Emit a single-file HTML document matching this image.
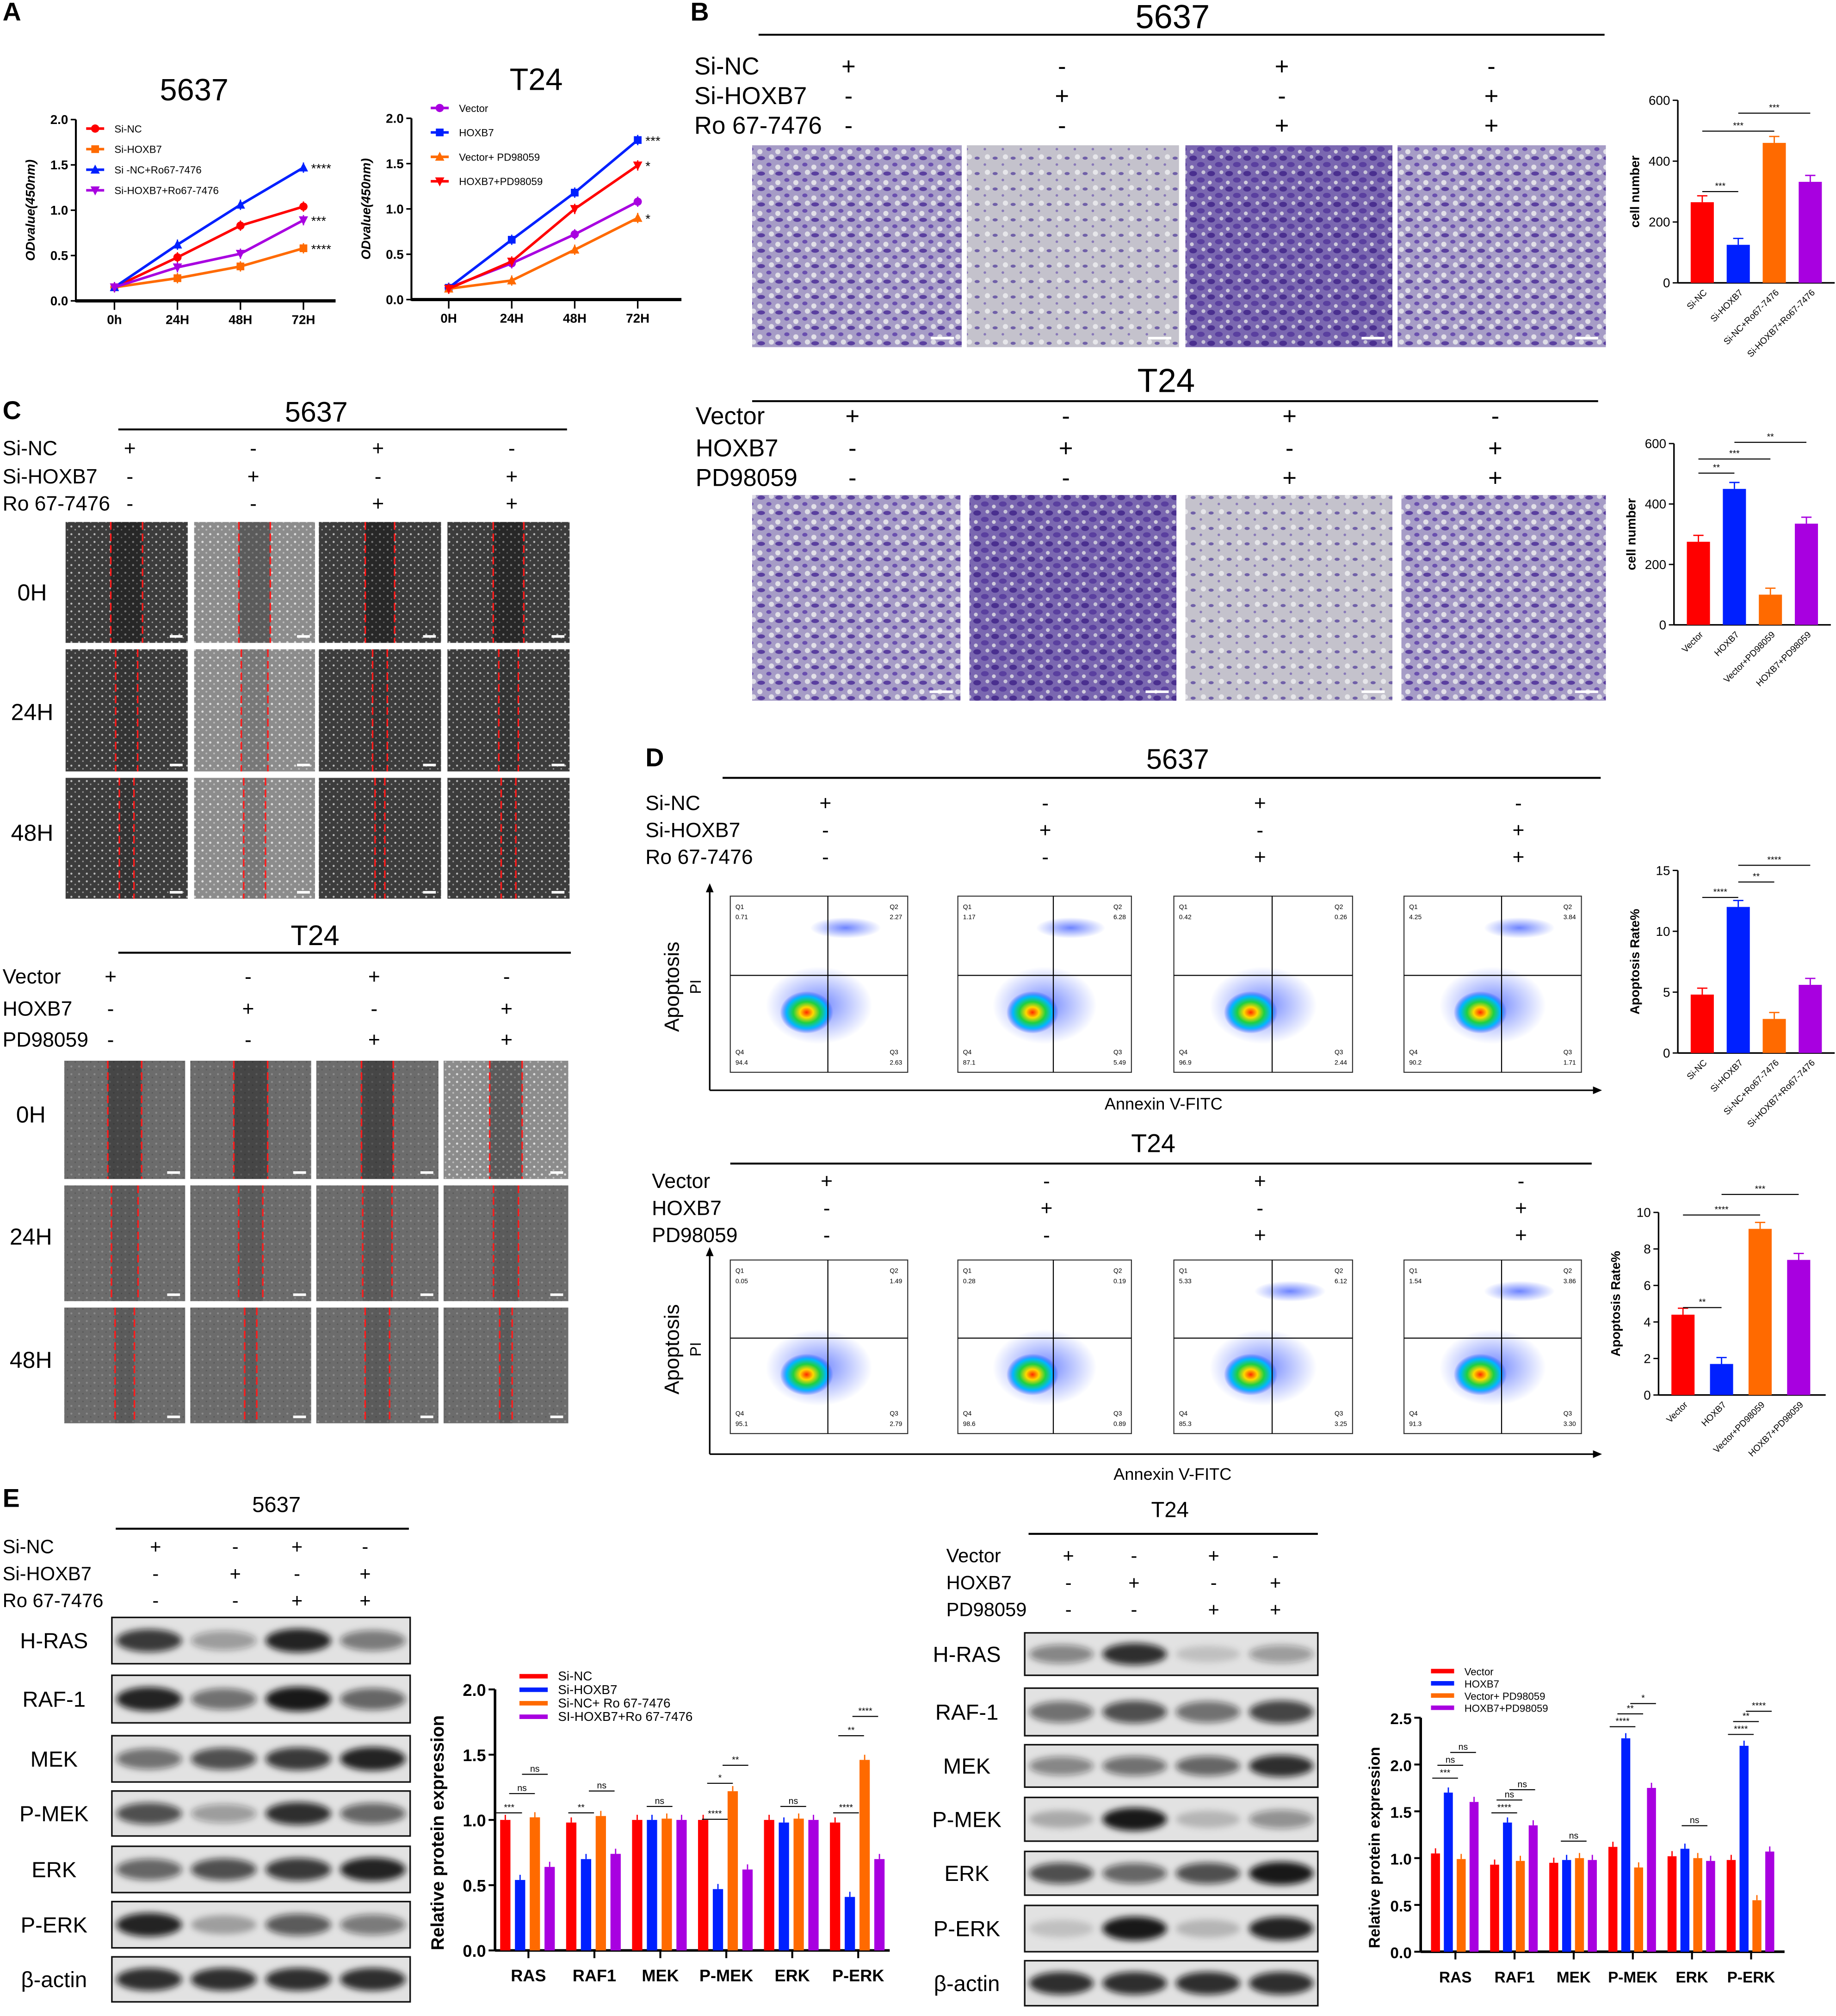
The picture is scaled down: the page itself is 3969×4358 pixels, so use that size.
<!DOCTYPE html>
<html><head><meta charset="utf-8"><style>
html,body{margin:0;padding:0;background:#fff}
svg{display:block;font-family:"Liberation Sans",Arial,sans-serif}
</style></head><body>
<svg id="fig" xmlns="http://www.w3.org/2000/svg" width="3969" height="4358" viewBox="0 0 1428 1568">
<defs>
<filter id="blur1" x="-20%" y="-50%" width="140%" height="200%"><feGaussianBlur stdDeviation="2.5"/></filter>
<filter id="blur2"><feGaussianBlur stdDeviation="4"/></filter>
<pattern id="cellsDense" width="14" height="12" patternUnits="userSpaceOnUse"><rect width="14" height="12" fill="#7a67b0"/><ellipse cx="4" cy="3" rx="3" ry="2" fill="#4a2f8f"/><ellipse cx="10" cy="8" rx="3" ry="2" fill="#5a3f9f"/><circle cx="12" cy="2" r="1.5" fill="#c8c4d8"/><circle cx="3" cy="10" r="1.5" fill="#d0ccdc"/></pattern>
<pattern id="cellsMid" width="14" height="12" patternUnits="userSpaceOnUse"><rect width="14" height="12" fill="#a69cc6"/><ellipse cx="4" cy="3" rx="3" ry="1.6" fill="#5a3f9f"/><ellipse cx="10" cy="8" rx="2" ry="1.5" fill="#6a4faf"/><circle cx="12" cy="2" r="2" fill="#dedde6"/><circle cx="3" cy="10" r="2" fill="#e2e0e8"/></pattern>
<pattern id="cellsLight" width="14" height="12" patternUnits="userSpaceOnUse"><rect width="14" height="12" fill="#c4c2cc"/><ellipse cx="4" cy="3" rx="2" ry="1.2" fill="#7060a8"/><circle cx="10" cy="8" r="1" fill="#8878b8"/><circle cx="12" cy="2" r="2" fill="#e6e6ea"/></pattern>
<pattern id="speckDark" width="6" height="6" patternUnits="userSpaceOnUse"><rect width="6" height="6" fill="#3c3c3c"/><circle cx="1.5" cy="1.5" r="0.8" fill="#bbb"/><circle cx="4.5" cy="4" r="0.6" fill="#999"/></pattern>
<pattern id="speckLight" width="6" height="6" patternUnits="userSpaceOnUse"><rect width="6" height="6" fill="#8c8c8c"/><circle cx="1.5" cy="1.5" r="0.9" fill="#ddd"/><circle cx="4.5" cy="4" r="0.7" fill="#bbb"/></pattern>
<pattern id="speckGray" width="6" height="6" patternUnits="userSpaceOnUse"><rect width="6" height="6" fill="#6c6c6c"/><circle cx="1.5" cy="1.5" r="0.8" fill="#8a8a8a"/><circle cx="4.5" cy="4" r="0.6" fill="#5a5a5a"/></pattern>
<radialGradient id="flowCore"><stop offset="0" stop-color="#ff2a00"/><stop offset="0.25" stop-color="#ffd800"/><stop offset="0.5" stop-color="#20d040"/><stop offset="0.75" stop-color="#00b8ff"/><stop offset="1" stop-color="#2030ff" stop-opacity="0"/></radialGradient>
<radialGradient id="flowSparse"><stop offset="0" stop-color="#3050ff" stop-opacity="0.7"/><stop offset="1" stop-color="#3050ff" stop-opacity="0"/></radialGradient>
</defs>
</svg>
<script>
// ===== DATA =====
const a1Cats=['0h','24H','48H','72H'];
const a1YTicks=[0,0.5,1.0,1.5,2.0];
const a1SiNC=[0.15,0.48,0.83,1.04];
const a1SiHOXB7=[0.15,0.25,0.38,0.58];
const a1SiNCRo=[0.15,0.62,1.06,1.47];
const a1SiHOXB7Ro=[0.15,0.37,0.52,0.89];
const a1Stars=['****','***','','****'];
const a2Cats=['0H','24H','48H','72H'];
const a2Vector=[0.13,0.40,0.72,1.08];
const a2HOXB7=[0.13,0.66,1.18,1.76];
const a2VectorPD=[0.12,0.21,0.55,0.90];
const a2HOXB7PD=[0.12,0.42,1.0,1.48];
const b1Labels=['Si-NC','Si-HOXB7','Si-NC+Ro67-7476','Si-HOXB7+Ro67-7476'];
const b1Values=[265,125,460,332];
const b1Ticks=[0,200,400,600];
const b2Labels=['Vector','HOXB7','Vector+PD98059','HOXB7+PD98059'];
const b2Values=[275,450,100,335];
const d1Values=[4.8,12.0,2.8,5.6];
const d1Ticks=[0,5,10,15];
const d2Values=[4.4,1.7,9.1,7.4];
const d2Ticks=[0,2,4,6,8,10];
const eCats=['RAS','RAF1','MEK','P-MEK','ERK','P-ERK'];
const e1SiNC=[1.0,0.98,1.0,1.0,1.0,0.98];
const e1SiHOXB7=[0.54,0.70,1.0,0.47,0.98,0.41];
const e1SiNCRo=[1.02,1.03,1.01,1.22,1.01,1.46];
const e1SiHOXB7Ro=[0.64,0.74,1.0,0.62,1.0,0.70];
const e1Ticks=[0,0.5,1.0,1.5,2.0];
const e2Vector=[1.05,0.93,0.95,1.12,1.02,0.98];
const e2HOXB7=[1.70,1.38,0.98,2.28,1.10,2.20];
const e2VectorPD=[0.99,0.97,1.0,0.90,1.0,0.55];
const e2HOXB7PD=[1.60,1.35,0.98,1.75,0.97,1.07];
const e2Ticks=[0,0.5,1.0,1.5,2.0,2.5];
const flow1Q=[['0.71','2.27','2.63','94.4'],['1.17','6.28','5.49','87.1'],['0.42','0.26','2.44','96.9'],['4.25','3.84','1.71','90.2']];
const flow2Q=[['0.05','1.49','2.79','95.1'],['0.28','0.19','0.89','98.6'],['5.33','6.12','3.25','85.3'],['1.54','3.86','3.30','91.3']];
const blot1Rows=['H-RAS','RAF-1','MEK','P-MEK','ERK','P-ERK','β-actin'];
const blot1Int=[[0.8,0.35,0.9,0.5],[0.9,0.55,0.95,0.6],[0.55,0.7,0.8,0.9],[0.7,0.35,0.85,0.6],[0.6,0.7,0.8,0.9],[0.9,0.3,0.65,0.5],[0.85,0.85,0.85,0.85]];
const blot2Int=[[0.45,0.85,0.15,0.35],[0.55,0.7,0.55,0.75],[0.45,0.55,0.6,0.85],[0.25,0.95,0.2,0.4],[0.7,0.6,0.7,0.95],[0.15,0.95,0.2,0.9],[0.85,0.85,0.85,0.85]];
const COLORS4=['#ff0000','#0020ff','#ff6a00','#a800e0'];

// ===== HELPERS =====
const NS='http://www.w3.org/2000/svg';
const svg=document.getElementById('fig');
function mk(tag,attrs,parent){const e=document.createElementNS(NS,tag);for(const k in attrs)e.setAttribute(k,attrs[k]);(parent||svg).appendChild(e);return e;}
function grp(name){const g=mk('g',{});


return g;}
function txt(x,y,s,size,name,opts,parent){const t=mk('text',Object.assign({x:x,y:y,'font-size':size,fill:'#000'},opts||{}),parent);t.textContent=s;


return t;}
function line(x1,y1,x2,y2,w,parent,col,dash){const l=mk('line',{x1,y1,x2,y2,stroke:col||'#000','stroke-width':w||1},parent);if(dash)l.setAttribute('stroke-dasharray',dash);return l;}

// panel letters
[['A',2,16],['B',537,16],['C',2,326],['D',502,596],['E',2,1172]].forEach(p=>{txt(p[1],p[2],p[0],20,'panel-letter-'+p[0].toLowerCase(),{'font-weight':'bold'});});

// ===== LINE CHARTS =====
function markerAt(type,x,y,c,g){
  if(type==='circle'){mk('circle',{cx:x,cy:y,r:3.2,fill:c},g);}
  else if(type==='square'){mk('rect',{x:x-3,y:y-3,width:6,height:6,fill:c},g);}
  else if(type==='tri'){mk('polygon',{points:`${x},${y-4} ${x-3.6},${y+3} ${x+3.6},${y+3}`,fill:c},g);}
  else {mk('polygon',{points:`${x},${y+4} ${x-3.6},${y-3} ${x+3.6},${y-3}`,fill:c},g);}
}
function lineChart(o){
  const g=grp(o.name);
  const ys=v=>o.y0-v/o.vmax*(o.y0-o.yTop);
  const xs=i=>o.xFirst+i*o.dx;
  txt(o.titleX,o.titleY,o.title,24,o.name+'-title',{'text-anchor':'middle'},g);
  line(o.ax,o.yTop,o.ax,o.y0+1,1.5,g);
  line(o.ax,o.y0,o.xEnd,o.y0,2.5,g);
  a1YTicks.forEach(v=>{line(o.ax-4,ys(v),o.ax,ys(v),1.2,g);txt(o.ax-6,ys(v)+3.5,v.toFixed(1),10,'y-tick-label',{'text-anchor':'end','font-weight':'bold'},g);});
  o.cats.forEach((c,i)=>{line(xs(i),o.y0,xs(i),o.y0+7,1.2,g);txt(xs(i),o.y0+18,c,10,'x-tick-label',{'text-anchor':'middle','font-weight':'bold'},g);});
  const yl=txt(0,0,'ODvalue(450nm)',10,'y-axis-title',{'text-anchor':'middle','font-weight':'bold','font-style':'italic',transform:`translate(${o.ax-32},${(o.y0+o.yTop)/2}) rotate(-90)`},g);
  o.series.forEach((s,si)=>{
    const sg=grp(o.name+'-series-'+s.key);g.appendChild(sg);
    const pts=s.vals.map((v,i)=>`${xs(i)},${ys(v)}`).join(' ');
    mk('polyline',{points:pts,fill:'none',stroke:s.color,'stroke-width':2},sg);
    s.vals.forEach((v,i)=>{line(xs(i),ys(v)-4,xs(i),ys(v)+4,1,sg,s.color);markerAt(s.marker,xs(i),ys(v),s.color,sg);});
    const ly=o.legY+si*o.legDy;
    line(o.legX,ly,o.legX+14,ly,2,g,s.color);markerAt(s.marker,o.legX+7,ly,s.color,g);
    txt(o.legX+22,ly+3,s.label,8,'legend-entry',{},g);
    if(s.star)txt(xs(3)+6,ys(s.vals[3])+4,s.star,10,'significance',{},g);
  });
}
lineChart({name:'chart-a-5637',title:'5637',titleX:151,titleY:78,ax:59,y0:234,yTop:93,vmax:2,xFirst:89,dx:49,xEnd:261,cats:a1Cats,legX:67,legY:100,legDy:16,series:[
 {key:'si-nc',label:'Si-NC',color:'#ff0000',vals:a1SiNC,marker:'circle',star:''},
 {key:'si-hoxb7',label:'Si-HOXB7',color:'#ff6a00',vals:a1SiHOXB7,marker:'square',star:'****'},
 {key:'si-nc-ro',label:'Si -NC+Ro67-7476',color:'#0020ff',vals:a1SiNCRo,marker:'tri',star:'****'},
 {key:'si-hoxb7-ro',label:'Si-HOXB7+Ro67-7476',color:'#a800e0',vals:a1SiHOXB7Ro,marker:'inv',star:'***'}]});
lineChart({name:'chart-a-t24',title:'T24',titleX:417,titleY:70,ax:320,y0:233,yTop:92,vmax:2,xFirst:349,dx:49,xEnd:530,cats:a2Cats,legX:335,legY:84,legDy:19,series:[
 {key:'vector',label:'Vector',color:'#a800e0',vals:a2Vector,marker:'circle',star:''},
 {key:'hoxb7',label:'HOXB7',color:'#0020ff',vals:a2HOXB7,marker:'square',star:'***'},
 {key:'vector-pd',label:'Vector+ PD98059',color:'#ff6a00',vals:a2VectorPD,marker:'tri',star:'*'},
 {key:'hoxb7-pd',label:'HOXB7+PD98059',color:'#ff0000',vals:a2HOXB7PD,marker:'inv',star:'*'}]});

// ===== CONDITION HEADERS =====
function header(o){
  const g=grp(o.name);
  txt(o.titleX,o.titleY,o.title,o.tsize||24,o.name+'-title',{'text-anchor':'middle'},g);
  line(o.lx1,o.ly,o.lx2,o.ly,1.5,g);
  o.rows.forEach((r,ri)=>{txt(o.labX,o.rowY[ri]+6,r,o.fs||18,'condition-label',{},g);
    o.signs[ri].forEach((s,ci)=>{txt(o.cols[ci],o.rowY[ri]+6,s,o.fs||18,'condition-sign',{'text-anchor':'middle'},g);});});
}
const sign5637=[['+','-','+','-'],['-','+','-','+'],['-','-','+','+']];
const signVec=[['+','-','+','-'],['-','+','-','+'],['-','-','+','+']];
header({name:'header-b-5637',title:'5637',titleX:912,titleY:22,lx1:590,lx2:1248,ly:27,labX:540,rows:['Si-NC','Si-HOXB7','Ro 67-7476'],rowY:[52,75,98],cols:[660,826,997,1160],signs:sign5637,tsize:26,fs:19});
header({name:'header-b-t24',title:'T24',titleX:907,titleY:305,lx1:585,lx2:1243,ly:312,labX:541,rows:['Vector','HOXB7','PD98059'],rowY:[324,349,372],cols:[663,829,1003,1163],signs:signVec,tsize:26,fs:19});
header({name:'header-c-5637',title:'5637',titleX:246,titleY:328,lx1:92,lx2:441,ly:334,labX:2,rows:['Si-NC','Si-HOXB7','Ro 67-7476'],rowY:[348,370,391],cols:[101,197,294,398],signs:sign5637,tsize:22,fs:16});
header({name:'header-c-t24',title:'T24',titleX:245,titleY:735,lx1:92,lx2:444,ly:741,labX:2,rows:['Vector','HOXB7','PD98059'],rowY:[759,784,808],cols:[86,193,291,394],signs:signVec,tsize:22,fs:16});
header({name:'header-d-5637',title:'5637',titleX:916,titleY:598,lx1:562,lx2:1245,ly:605,labX:502,rows:['Si-NC','Si-HOXB7','Ro 67-7476'],rowY:[624,645,666],cols:[642,813,980,1181],signs:sign5637,tsize:22,fs:16});
header({name:'header-d-t24',title:'T24',titleX:897,titleY:896,lx1:568,lx2:1238,ly:905,labX:507,rows:['Vector','HOXB7','PD98059'],rowY:[918,939,960],cols:[643,814,980,1183],signs:signVec,tsize:20,fs:16});
header({name:'header-e-5637',title:'5637',titleX:215,titleY:1176,lx1:90,lx2:318,ly:1189,labX:2,rows:['Si-NC','Si-HOXB7','Ro 67-7476'],rowY:[1202,1223,1244],cols:[121,183,231,284],signs:sign5637,tsize:17,fs:15});
header({name:'header-e-t24',title:'T24',titleX:910,titleY:1180,lx1:800,lx2:1025,ly:1193,labX:736,rows:['Vector','HOXB7','PD98059'],rowY:[1209,1230,1251],cols:[831,882,944,992],signs:signVec,tsize:17,fs:15});

// ===== MICROGRAPHS (transwell) =====
function transwell(name,xs,y,h,fills){const g=grp(name);xs.forEach((x,i)=>{const r=mk('rect',{x:x[0],y:y,width:x[1]-x[0],height:h,fill:'url(#'+fills[i]+')'},g);


mk('rect',{x:x[1]-24,y:y+h-8,width:18,height:2,fill:'#fff'},g);});}
transwell('transwell-5637',[[585,748],[752,917],[922,1083],[1087,1249]],113,157,['cellsMid','cellsLight','cellsDense','cellsMid']);
transwell('transwell-t24',[[585,747],[754,915],[922,1083],[1090,1249]],385,160,['cellsMid','cellsDense','cellsLight','cellsMid']);

// ===== SCRATCH =====
function scratch(name,cols,rows,fills,gaps){const g=grp(name);
  rows.forEach((r,ri)=>cols.forEach((c,ci)=>{const w=c[1]-c[0],h=r[1]-r[0];
    const im=mk('rect',{x:c[0],y:r[0],width:w,height:h,fill:'url(#'+fills[ri][ci]+')'},g);
    
    
    const gw=gaps[ri][ci]*w, cx=c[0]+w/2;
    mk('rect',{x:cx-gw/2,y:r[0],width:gw,height:h,fill:'#000','fill-opacity':ri===0?0.35:0.15},g);
    line(cx-gw/2,r[0],cx-gw/2,r[1],1.2,g,'#ff1a1a','6 3');
    line(cx+gw/2,r[0],cx+gw/2,r[1],1.2,g,'#ff1a1a','6 3');
    mk('rect',{x:c[1]-14,y:r[1]-6,width:10,height:2,fill:'#fff'},g);
  }));}
scratch('scratch-5637',[[51,146],[151,245],[248,343],[348,443]],[[406,500],[505,600],[605,699]],
 [['speckDark','speckLight','speckDark','speckDark'],['speckDark','speckLight','speckDark','speckDark'],['speckDark','speckLight','speckDark','speckDark']],
 [[0.26,0.26,0.24,0.25],[0.18,0.22,0.12,0.16],[0.12,0.18,0.08,0.12]]);
scratch('scratch-t24',[[50,144],[148,242],[246,341],[345,442]],[[825,917],[922,1012],[1017,1107]],
 [['speckGray','speckGray','speckGray','speckLight'],['speckGray','speckGray','speckGray','speckGray'],['speckGray','speckGray','speckGray','speckGray']],
 [[0.28,0.28,0.26,0.26],[0.22,0.2,0.24,0.2],[0.16,0.1,0.2,0.1]]);
[['0H',460],['24H',553],['48H',647]].forEach(t=>txt(25,t[1]+7,t[0],18,'time-label',{'text-anchor':'middle'}));
[['0H',866],['24H',961],['48H',1057]].forEach(t=>txt(24,t[1]+7,t[0],18,'time-label',{'text-anchor':'middle'}));

// ===== FLOW PLOTS =====
function flow(name,y0,y1,qs,upper,axY){const g=grp(name);
  const xs=[[568,706],[745,880],[913,1052],[1092,1230]];
  xs.forEach((x,i)=>{const w=x[1]-x[0],h=y1-y0;
    const b=mk('rect',{x:x[0],y:y0,width:w,height:h,fill:'#fff',stroke:'#333','stroke-width':0.8},g);
    
    
    const qx=x[0]+w*0.55,qy=y0+h*0.45;
    mk('ellipse',{cx:x[0]+w*0.5,cy:y0+h*0.62,rx:w*0.3,ry:h*0.22,fill:'url(#flowSparse)'},g);
    mk('ellipse',{cx:x[0]+w*0.43,cy:y0+h*0.66,rx:w*0.15,ry:h*0.12,fill:'url(#flowCore)'},g);
    if(upper[i])mk('ellipse',{cx:x[0]+w*0.65,cy:y0+h*0.18,rx:w*0.2,ry:h*0.06,fill:'url(#flowSparse)'},g);
    line(qx,y0,qx,y1,0.8,g);line(x[0],qy,x[1],qy,0.8,g);
    txt(x[0]+4,y0+10,'Q1',5,'quadrant-label',{},g);txt(x[0]+4,y0+18,qs[i][0],5,'quadrant-value',{},g);
    txt(x[1]-14,y0+10,'Q2',5,'quadrant-label',{},g);txt(x[1]-14,y0+18,qs[i][1],5,'quadrant-value',{},g);
    txt(x[1]-14,y1-14,'Q3',5,'quadrant-label',{},g);txt(x[1]-14,y1-6,qs[i][2],5,'quadrant-value',{},g);
    txt(x[0]+4,y1-14,'Q4',5,'quadrant-label',{},g);txt(x[0]+4,y1-6,qs[i][3],5,'quadrant-value',{},g);
  });
  line(552,axY,552,y0-6,1.2,g);mk('polygon',{points:`552,${y0-10} 549,${y0-3} 555,${y0-3}`,fill:'#000'},g);
  line(552,axY,1240,axY,1.2,g);mk('polygon',{points:`1246,${axY} 1239,${axY-3} 1239,${axY+3}`,fill:'#000'},g);
  txt(0,0,'Apoptosis',16,'y-axis-title',{'text-anchor':'middle',transform:`translate(528,${(y0+y1)/2+2}) rotate(-90)`},g);
  txt(0,0,'PI',12,'y-axis-title-pi',{'text-anchor':'middle',transform:`translate(545,${(y0+y1)/2+2}) rotate(-90)`},g);
}
flow('flow-5637',697,834,flow1Q,[true,true,false,true],848);
txt(905,863,'Annexin V-FITC',13,'x-axis-title',{'text-anchor':'middle'});
flow('flow-t24',980,1115,flow2Q,[false,false,true,true],1131);
txt(912,1151,'Annexin V-FITC',13,'x-axis-title',{'text-anchor':'middle'});

// ===== SIMPLE BAR CHARTS =====
function barChart(o){const g=grp(o.name);
  const ys=v=>o.y0-v/o.vmax*(o.y0-o.yTop);
  line(o.ax,o.yTop,o.ax,o.y0,1.2,g);line(o.ax,o.y0,o.ax+o.n*o.dx+10,o.y0,1.2,g);
  o.ticks.forEach(v=>{line(o.ax-4,ys(v),o.ax,ys(v),1,g);txt(o.ax-6,ys(v)+3.5,String(v),10,'y-tick-label',{'text-anchor':'end'},g);});
  o.values.forEach((v,i)=>{const x=o.ax+10+i*o.dx;
    const b=mk('rect',{x:x,y:ys(v),width:o.bw,height:o.y0-ys(v),fill:COLORS4[i]},g);
    
    
    line(x+o.bw/2,ys(v),x+o.bw/2,ys(v)-5,1,g,COLORS4[i]);line(x+o.bw/2-4,ys(v)-5,x+o.bw/2+4,ys(v)-5,1,g,COLORS4[i]);
    txt(0,0,o.labels[i],7,'x-tick-label',{'text-anchor':'end',transform:`translate(${x+o.bw/2+4},${o.y0+8}) rotate(-45)`},g);
  });
  txt(0,0,o.ytitle,10,'y-axis-title',{'text-anchor':'middle','font-weight':'bold',transform:`translate(${o.ax-30},${(o.y0+o.yTop)/2}) rotate(-90)`},g);
  o.sig.forEach(s=>{const x1=o.ax+10+s[0]*o.dx+o.bw/2,x2=o.ax+10+s[1]*o.dx+o.bw/2;line(x1,s[2],x2,s[2],0.8,g);txt((x1+x2)/2,s[2]-2,s[3],7,'significance',{'text-anchor':'middle'},g);});
}
barChart({name:'bar-b-5637',ax:1305,y0:220,yTop:78,vmax:600,ticks:b1Ticks,values:b1Values,labels:b1Labels,n:4,dx:28,bw:18,ytitle:'cell number',sig:[[0,1,149,'***'],[0,2,102,'***'],[1,3,88,'***']]});
barChart({name:'bar-b-t24',ax:1302,y0:486,yTop:345,vmax:600,ticks:b1Ticks,values:b2Values,labels:b2Labels,n:4,dx:28,bw:18,ytitle:'cell number',sig:[[0,1,368,'**'],[0,2,357,'***'],[1,3,344,'**']]});
barChart({name:'bar-d-5637',ax:1305,y0:819,yTop:677,vmax:15,ticks:d1Ticks,values:d1Values,labels:b1Labels,n:4,dx:28,bw:18,ytitle:'Apoptosis Rate%',sig:[[0,1,698,'****'],[1,2,686,'**'],[1,3,673,'****']]});
barChart({name:'bar-d-t24',ax:1290,y0:1085,yTop:943,vmax:10,ticks:d2Ticks,values:d2Values,labels:b2Labels,n:4,dx:30,bw:18,ytitle:'Apoptosis Rate%',sig:[[0,1,1017,'**'],[0,2,945,'****'],[1,3,929,'***']]});

// ===== BLOTS =====
function blots(name,x0,x1,rowsY,ints,labX){const g=grp(name);
  const w=(x1-x0)/4;
  rowsY.forEach((r,ri)=>{const bg=mk('rect',{x:x0,y:r[0],width:x1-x0,height:r[1]-r[0],fill:'#e2e2e2',stroke:'#111','stroke-width':1.2},g);
    
    
    const cy=(r[0]+r[1])/2;
    ints[ri].forEach((v,li)=>{mk('ellipse',{cx:x0+w*(li+0.5),cy:cy,rx:w*0.44,ry:(r[1]-r[0])*0.18+v*3,fill:'#111','fill-opacity':v,filter:'url(#blur1)'},g);});
    txt(labX,cy+6,blot1Rows[ri],17,'blot-label',{'text-anchor':'middle'},g);
  });}
blots('blots-5637',87,319,[[1258,1294],[1303,1340],[1350,1386],[1393,1428],[1436,1472],[1479,1515],[1522,1557]],blot1Int,42);
blots('blots-t24',797,1025,[[1270,1303],[1313,1350],[1357,1390],[1398,1432],[1440,1474],[1482,1518],[1525,1560]],blot2Int,752);

// ===== GROUPED BAR CHARTS =====
function groupChart(o){const g=grp(o.name);
  const ys=v=>o.y0-v/o.vmax*(o.y0-o.yTop);
  const gx=i=>o.gFirst+i*o.gdx;
  line(o.ax,o.yTop,o.ax,o.y0,2,g);line(o.ax,o.y0,o.xEnd,o.y0,2,g);
  o.ticks.forEach(v=>{line(o.ax-5,ys(v),o.ax,ys(v),1.5,g);txt(o.ax-7,ys(v)+5,v.toFixed(1),o.tfs,'y-tick-label',{'text-anchor':'end','font-weight':'bold'},g);});
  eCats.forEach((c,i)=>{line(gx(i),o.y0,gx(i),o.y0+6,1.5,g);txt(gx(i),o.y0+24,c,o.tfs,'x-tick-label',{'text-anchor':'middle','font-weight':'bold'},g);});
  o.series.forEach((s,si)=>{s.vals.forEach((v,i)=>{const x=gx(i)+(si-2)*o.bdx+1;
    const b=mk('rect',{x:x,y:ys(v),width:o.bw,height:o.y0-ys(v),fill:COLORS4[si]},g);
    
    
    line(x+o.bw/2,ys(v),x+o.bw/2,ys(v)-4,1,g,COLORS4[si]);});
    const ly=o.legY+si*o.legDy;
    mk('rect',{x:o.legX,y:ly-2,width:o.legW,height:3.5,fill:COLORS4[si]},g);
    txt(o.legX+o.legW+8,ly+3,s.label,o.lfs,'legend-entry',{},g);
  });
  txt(0,0,'Relative protein expression',o.yfs,'y-axis-title',{'text-anchor':'middle','font-weight':'bold',transform:`translate(${o.yTitleX},${(o.y0+o.yTop)/2+10}) rotate(-90)`},g);
}
groupChart({name:'group-bar-e-5637',ax:385,y0:1517,yTop:1314,vmax:2,xEnd:692,gFirst:411,gdx:51.3,bdx:11.5,bw:8,ticks:e1Ticks,tfs:13,lfs:10,yfs:14,yTitleX:345,legX:404,legY:1304,legDy:10.5,legW:22,series:[
 {key:'si-nc',label:'Si-NC',vals:e1SiNC},{key:'si-hoxb7',label:'Si-HOXB7',vals:e1SiHOXB7},{key:'si-nc-ro',label:'Si-NC+ Ro 67-7476',vals:e1SiNCRo},{key:'si-hoxb7-ro',label:'SI-HOXB7+Ro 67-7476',vals:e1SiHOXB7Ro}]});
groupChart({name:'group-bar-e-t24',ax:1105,y0:1518,yTop:1336,vmax:2.5,xEnd:1388,gFirst:1132,gdx:46,bdx:10,bw:7,ticks:e2Ticks,tfs:12,lfs:8,yfs:12,yTitleX:1073,legX:1113,legY:1300,legDy:9.5,legW:18,series:[
 {key:'vector',label:'Vector',vals:e2Vector},{key:'hoxb7',label:'HOXB7',vals:e2HOXB7},{key:'vector-pd',label:'Vector+ PD98059',vals:e2VectorPD},{key:'hoxb7-pd',label:'HOXB7+PD98059',vals:e2HOXB7PD}]});
// significance marks E
[[396,1410,'***'],[406,1395,'ns'],[416,1380,'ns'],[452,1410,'**'],[468,1393,'ns'],[513,1405,'ns'],[556,1415,'****'],[560,1387,'*'],[572,1373,'**'],[617,1405,'ns'],[658,1410,'****'],[662,1350,'**'],[673,1335,'****'],
 [1124,1383,'***'],[1128,1373,'ns'],[1138,1363,'ns'],[1170,1410,'****'],[1174,1400,'ns'],[1184,1392,'ns'],[1224,1432,'ns'],[1262,1343,'****'],[1268,1333,'**'],[1278,1325,'*'],[1318,1420,'ns'],[1354,1349,'****'],[1358,1339,'**'],[1368,1331,'****']].forEach(s=>{
  line(s[0]-10,s[1],s[0]+10,s[1],0.8);txt(s[0],s[1]-2,s[2],7,'significance',{'text-anchor':'middle'});});
</script>
</body></html>
